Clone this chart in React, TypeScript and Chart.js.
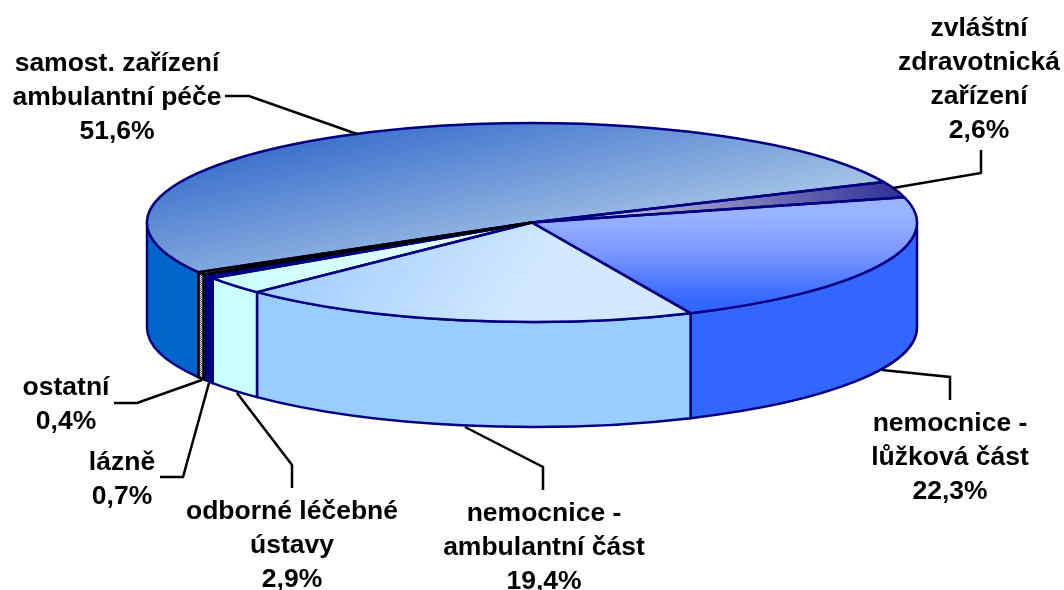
import React, { useEffect, useRef } from "react";
import { Chart, registerables } from "chart.js";

Chart.register(...registerables);

// ---- data ----
const categories = [
  "samost. zařízení ambulantní péče",
  "zvláštní zdravotnická zařízení",
  "nemocnice - lůžková část",
  "nemocnice - ambulantní část",
  "odborné léčebné ústavy",
  "lázně",
  "ostatní",
];
const shares = [51.6, 2.6, 22.3, 19.4, 2.9, 0.7, 0.4];
const labelLines = [
  ["samost. zařízení", "ambulantní péče"],
  ["zvláštní", "zdravotnická", "zařízení"],
  ["nemocnice -", "lůžková část"],
  ["nemocnice -", "ambulantní část"],
  ["odborné léčebné", "ústavy"],
  ["lázně"],
  ["ostatní"],
];

// ---- style and layout ----
const WALL_COLORS = ["#0066CC", "#000080", "#3366FF", "#99CCFF", "#CCFFFF", "#000080", "pattern"];
const EDGE_COLORS = ["#000080", "#000080", "#000080", "#000080", "#000080", "#000080", "#000000"];
const CX = 532;
const CY = 222.5;
const RX = 385;
const RY = 99.5;
const DEPTH = 105;
const ROTATION = 240;
const FONT = 'bold 26.5px "Liberation Sans", Arial, sans-serif';
const LINE_H = 34;
const EDGE_W = 2.5;

// centre x, first-line centre y of each label block
const labelAnchors = [
  [117, 64],
  [979, 29],
  [950, 424],
  [544, 514],
  [292, 512],
  [122, 463],
  [66, 388],
];
const leaders = [
  [[225, 96], [249, 96], [357, 134]],
  [[981, 150], [981, 173], [893, 188]],
  [[950, 400], [950, 377], [882, 370]],
  [[543, 490], [543, 467], [465, 427]],
  [[292, 488], [292, 465], [237, 393]],
  [[160, 477], [183, 477], [209, 383]],
  [[114, 403], [137, 403], [202, 380]],
];
const gradientSpecs: any[] = [
  { from: [330, 130], to: [366, 297], stops: [[0, "#3A6FCC"], [1, "#A8C6E6"]] },
  { from: [895, 190], to: [600, 214], stops: [[0, "#333399"], [1, "#C4C4DC"]] },
  { from: [700, 215], to: [700, 302], stops: [[0, "#99B3FF"], [0.42, "#7C98FF"], [1, "#3366FF"]] },
  { from: [330, 230], to: [500, 340], stops: [[0, "#A6D0FF"], [1, "#D2E8FF"]] },
  { from: [240, 285], to: [480, 240], stops: [[0, "#CCFFFF"], [1, "#E6FFFF"]] },
];

function dotPattern(ctx: CanvasRenderingContext2D) {
  const c = document.createElement("canvas");
  c.width = 2;
  c.height = 2;
  const p = c.getContext("2d")!;
  p.fillStyle = "#FFFFFF";
  p.fillRect(0, 0, 2, 2);
  p.fillStyle = "#555555";
  p.fillRect(0, 0, 1, 1);
  p.fillRect(1, 1, 1, 1);
  return ctx.createPattern(c, "repeat")!;
}

// Screen-space gradient expressed in the pie's own (circular) coordinate system.
function topFill(chart: any, i: number) {
  const spec = gradientSpecs[i];
  if (!spec) return i === 5 ? "#000080" : "#D8D8D8";
  const area = chart.chartArea;
  if (!area) return spec.stops[0][1];
  const sx0 = (area.left + area.right) / 2;
  const sy0 = (area.top + area.bottom) / 2;
  const R = Math.min(area.right - area.left, area.bottom - area.top) / 2;
  const kx = RX / R;
  const ky = RY / R;
  const dx = spec.to[0] - spec.from[0];
  const dy = spec.to[1] - spec.from[1];
  const len2 = dx * dx + dy * dy;
  const vx = (kx * dx) / len2;
  const vy = (ky * dy) / len2;
  const v2 = vx * vx + vy * vy;
  const qx = sx0 + (spec.from[0] - CX) / kx;
  const qy = sy0 + (spec.from[1] - CY) / ky;
  const g = chart.ctx.createLinearGradient(qx, qy, qx + vx / v2, qy + vy / v2);
  spec.stops.forEach((s: any) => g.addColorStop(s[0], s[1]));
  return g;
}

const pie3d = {
  id: "pie3d",
  beforeDatasetsDraw(chart: any) {
    const ctx: CanvasRenderingContext2D = chart.ctx;
    const arcs = chart.getDatasetMeta(0).data;
    // side walls, only the front half of the cylinder shows
    arcs.forEach((arc: any, i: number) => {
      const TAU = Math.PI * 2;
      let a = arc.startAngle;
      let b = arc.endAngle;
      while (a < 0) {
        a += TAU;
        b += TAU;
      }
      while (a >= TAU) {
        a -= TAU;
        b -= TAU;
      }
      const ranges = [
        [Math.max(a, 0), Math.min(b, Math.PI)],
        [Math.max(a, TAU), Math.min(b, TAU + Math.PI)],
      ];
      ranges.forEach(([s, e]) => {
        if (e <= s) return;
        ctx.beginPath();
        ctx.ellipse(CX, CY, RX, RY, 0, s, e);
        ctx.ellipse(CX, CY + DEPTH, RX, RY, 0, e, s, true);
        ctx.closePath();
        ctx.fillStyle = WALL_COLORS[i] === "pattern" ? dotPattern(ctx) : WALL_COLORS[i];
        ctx.fill();
        ctx.strokeStyle = EDGE_COLORS[i];
        ctx.lineWidth = EDGE_W;
        ctx.lineJoin = "round";
        ctx.stroke();
      });
    });
    // the library's arcs are drawn flattened onto the top ellipse
    const first = arcs[0];
    const k = first.outerRadius;
    ctx.save();
    ctx.translate(CX, CY);
    ctx.scale(RX / k, RY / k);
    ctx.translate(-first.x, -first.y);
  },
  afterDatasetsDraw(chart: any) {
    const ctx: CanvasRenderingContext2D = chart.ctx;
    ctx.restore();
    const arcs = chart.getDatasetMeta(0).data;
    ctx.lineJoin = "round";
    ctx.lineWidth = EDGE_W;
    [0, 1, 2, 3, 4, 5, 6].forEach((i) => {
      const arc = arcs[i];
      ctx.beginPath();
      ctx.moveTo(CX, CY);
      ctx.ellipse(CX, CY, RX, RY, 0, arc.startAngle, arc.endAngle);
      ctx.closePath();
      ctx.strokeStyle = EDGE_COLORS[i];
      ctx.stroke();
    });
    // leaders
    ctx.strokeStyle = "#000000";
    ctx.lineJoin = "miter";
    leaders.forEach((pts) => {
      ctx.beginPath();
      pts.forEach((p, j) => (j ? ctx.lineTo(p[0], p[1]) : ctx.moveTo(p[0], p[1])));
      ctx.stroke();
    });
    // labels
    ctx.fillStyle = "#000000";
    ctx.font = FONT;
    ctx.textAlign = "center";
    ctx.textBaseline = "middle";
    labelLines.forEach((lines, i) => {
      const all = [...lines, shares[i].toFixed(1).replace(".", ",") + "%"];
      all.forEach((t, j) => ctx.fillText(t, labelAnchors[i][0], labelAnchors[i][1] + j * LINE_H));
    });
  },
};

export default function App() {
  const ref = useRef<HTMLCanvasElement>(null);
  useEffect(() => {
    const chart = new Chart(ref.current!, {
      type: "pie",
      data: {
        labels: categories,
        datasets: [
          {
            data: shares,
            borderWidth: 0,
            hoverOffset: 0,
            clip: false,
            backgroundColor: (c: any) => topFill(c.chart, c.dataIndex),
          } as any,
        ],
      },
      options: {
        responsive: false,
        animation: false,
        rotation: ROTATION,
        events: [],
        layout: { padding: 0 },
        plugins: { legend: { display: false }, tooltip: { enabled: false }, title: { display: false } },
      },
      plugins: [pie3d],
    });
    return () => chart.destroy();
  }, []);
  return (
    <canvas
      ref={ref}
      width={1064}
      height={590}
      style={{ position: "absolute", left: 0, top: 0, width: 1064, height: 590, display: "block" }}
    />
  );
}
